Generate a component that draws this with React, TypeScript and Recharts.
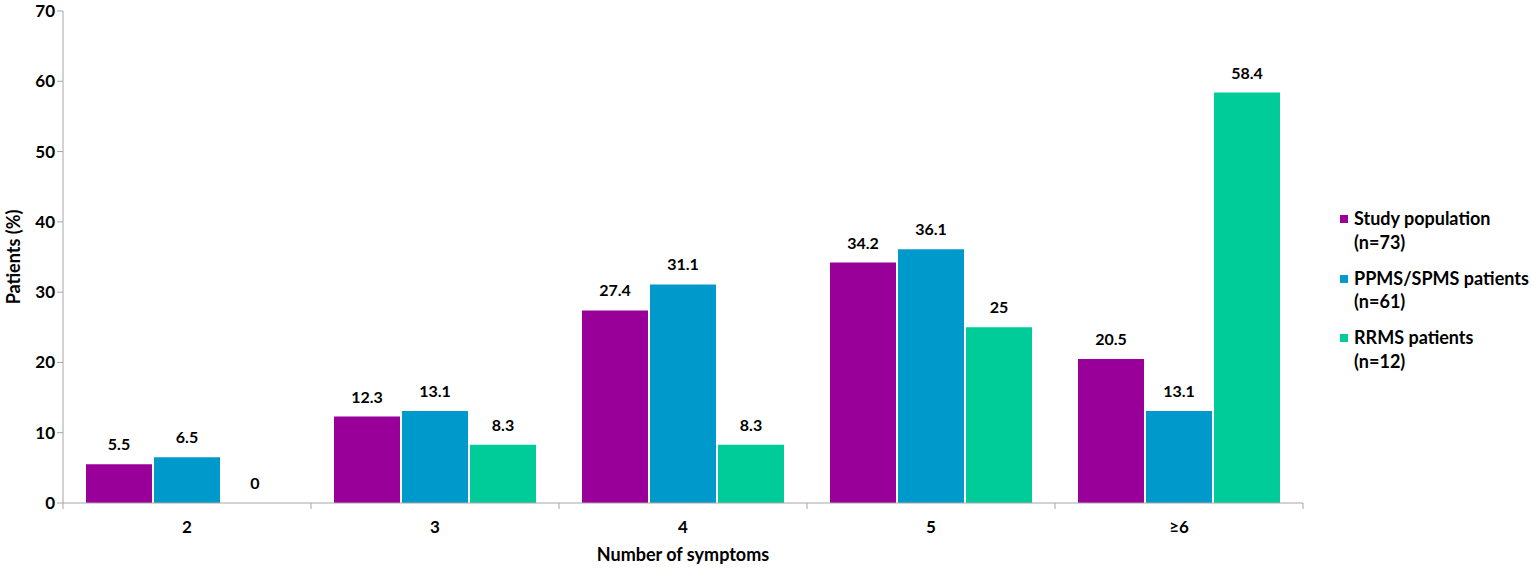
import React from "react";
import { BarChart, Bar, XAxis, YAxis, LabelList } from "recharts";

const categories = ["2", "3", "4", "5", "≥6"];
const studyPopulation = [5.5, 12.3, 27.4, 34.2, 20.5];
const ppmsSpms = [6.5, 13.1, 31.1, 36.1, 13.1];
const rrms = [0, 8.3, 8.3, 25, 58.4];
const yTicks = [0, 10, 20, 30, 40, 50, 60, 70];

const series = [
  { key: "study", name: "Study population", n: "(n=73)", color: "#990099" },
  { key: "ppms", name: "PPMS/SPMS patients", n: "(n=61)", color: "#0099cc" },
  { key: "rrms", name: "RRMS patients", n: "(n=12)", color: "#00cc99" },
];

const data = categories.map((c, i) => ({
  cat: c,
  study: studyPopulation[i],
  ppms: ppmsSpms[i],
  rrms: rrms[i],
}));

const FONT = "Lato, 'Open Sans', sans-serif";
const AXIS = "#a6a6a6";
const W = 1532;
const H = 569;
const M = { top: 11, right: 229, bottom: 6, left: 0 };
const Y_W = 63;
const BAND = (W - M.left - M.right - Y_W) / categories.length;

const XTick = (props: { x?: number; y?: number; index?: number; payload?: { value: string } }) => {
  const { x = 0, y = 0, index = 0, payload } = props;
  const top = y - 8;
  return (
    <g>
      <line x1={x - BAND / 2} x2={x - BAND / 2} y1={top} y2={top + 6} stroke={AXIS} />
      {index === categories.length - 1 && (
        <line x1={x + BAND / 2} x2={x + BAND / 2} y1={top} y2={top + 6} stroke={AXIS} />
      )}
      <text x={x} y={top + 24} dy="0.36em" textAnchor="middle" fontSize={17} fontWeight={700} fill="#000" fontFamily={FONT}>
        {payload?.value}
      </text>
    </g>
  );
};

const YLabel = (props: { viewBox?: { x: number; y: number; width: number; height: number } }) => {
  const vb = props.viewBox ?? { x: 0, y: 0, width: 0, height: 0 };
  const cx = 13;
  const cy = vb.y + vb.height / 2;
  return (
    <text x={cx} y={cy} transform={`rotate(-90 ${cx} ${cy})`} textAnchor="middle" dominantBaseline="central" fontSize={18} fontWeight={700} fill="#000" fontFamily={FONT}>
      Patients (%)
    </text>
  );
};

const LegendBox = () => (
  <div style={{ position: "absolute", left: 1332, top: 207, width: 200, whiteSpace: "nowrap", fontFamily: FONT, fontWeight: 700, fontSize: 18, color: "#000", lineHeight: "23.5px" }}>
    {series.map((s) => (
      <div key={s.key} style={{ position: "relative", paddingLeft: 22, marginBottom: 12.5 }}>
        <span style={{ position: "absolute", left: 8, top: 8, width: 8, height: 8, background: s.color }} />
        <div>{s.name}</div>
        <div>{s.n}</div>
      </div>
    ))}
  </div>
);

export default function App() {
  return (
    <div style={{ position: "fixed", left: 0, top: 0, width: W, height: H, background: "#fff" }}>
      <BarChart width={W} height={H} data={data} margin={M} barCategoryGap={23} barGap={2}>
        <XAxis
          dataKey="cat"
          stroke={AXIS}
          tickLine={false}
          tick={<XTick />}
          height={60}
          label={{ value: "Number of symptoms", position: "insideBottom", offset: 2, fontSize: 18, fontWeight: 700, fill: "#000", fontFamily: FONT }}
        />
        <YAxis
          domain={[0, 70]}
          ticks={yTicks}
          width={Y_W}
          stroke={AXIS}
          tickSize={6}
          tick={{ fontSize: 17, fontWeight: 700, fill: "#000", fontFamily: FONT }}
          label={<YLabel />}
        />
        {series.map((s) => (
          <Bar key={s.key} dataKey={s.key} name={s.name} fill={s.color} minPointSize={0.01} isAnimationActive={false}>
            <LabelList dataKey={s.key} position="top" offset={14} fontSize={16} fontWeight={700} fill="#000" fontFamily={FONT} />
          </Bar>
        ))}
      </BarChart>
      <LegendBox />
    </div>
  );
}
